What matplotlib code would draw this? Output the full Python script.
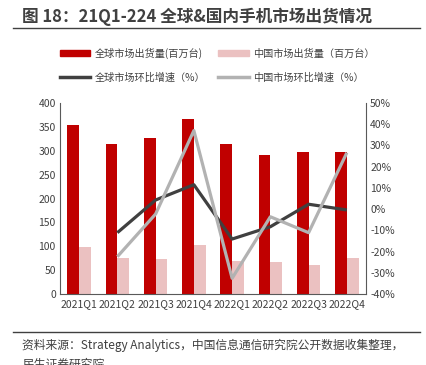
import matplotlib.pyplot as plt
import numpy as np
from matplotlib.lines import Line2D
from matplotlib.patches import Patch
from matplotlib.ticker import FuncFormatter

plt.rcParams['font.family'] = ['Noto Sans CJK SC', 'DejaVu Sans']

# 数据
quarters = ['2021Q1', '2021Q2', '2021Q3', '2021Q4', '2022Q1', '2022Q2', '2022Q3', '2022Q4']
global_ship = [354, 315, 327, 366, 315, 292, 297, 297]
china_ship = [98, 76, 74, 102, 69, 67, 60, 75]
global_qoq = [None, -11.1, 4.3, 11.5, -14.1, -8.3, 2.3, -0.4]
china_qoq = [None, -22.4, -2.3, 37.0, -32.6, -3.6, -11.1, 26.6]

c_global = '#C00000'
c_china = '#EBC1C1'
c_gline = '#404040'
c_cline = '#B2B2B2'
txt = '#404040'

fig = plt.figure(figsize=(4.27, 3.65), dpi=100)
ax = fig.add_axes([0.1405, 0.1945, 0.7166, 0.5233])
ax2 = ax.twinx()

x = np.arange(len(quarters))
w = 0.31
ax.bar(x - w / 2, global_ship, w, color=c_global)
ax.bar(x + w / 2, china_ship, w, color=c_china)
ax.set_xlim(-0.5, len(quarters) - 0.5)
ax.set_ylim(0, 400)
ax.set_yticks(range(0, 401, 50))
ax.set_xticks(x)
ax.set_xticklabels(quarters)

gx = [i for i, v in enumerate(global_qoq) if v is not None]
ax2.plot(gx, [global_qoq[i] for i in gx], color=c_gline, lw=2.3, solid_capstyle='butt')
ax2.plot(gx, [china_qoq[i] for i in gx], color=c_cline, lw=2.3, solid_capstyle='butt')
ax2.set_ylim(-40, 50)
ax2.set_yticks(range(-40, 51, 10))
ax2.yaxis.set_major_formatter(FuncFormatter(lambda v, p: '%d%%' % v))

for a in (ax, ax2):
    a.spines['top'].set_visible(False)
    for s in ('left', 'right', 'bottom'):
        a.spines[s].set_color('#595959')
        a.spines[s].set_linewidth(0.8)
    a.tick_params(length=0, labelsize=7.5, colors=txt, pad=3)
ax.spines['right'].set_visible(False)
ax2.spines['left'].set_visible(False)
ax2.spines['bottom'].set_visible(False)
ax.tick_params(axis='x', pad=4)

handles = [Patch(color=c_global), Line2D([], [], color=c_gline, lw=2.5),
           Patch(color=c_china), Line2D([], [], color=c_cline, lw=2.5)]
labels = ['全球市场出货量(百万台)', '全球市场环比增速（%）',
          '中国市场出货量（百万台）', '中国市场环比增速（%）']
leg = fig.legend(handles, labels, ncol=2, frameon=False, loc='center',
                 bbox_to_anchor=(217 / 427, 1 - 65 / 365), fontsize=7.3,
                 handlelength=3.0, handleheight=0.6, columnspacing=1.3,
                 labelspacing=1.35, handletextpad=0.4)
for t in leg.get_texts():
    t.set_color(txt)

fig.text(22 / 427, 1 - 17 / 365, '图 18：21Q1-224 全球&国内手机市场出货情况',
         fontsize=12, fontweight='bold', color='#404040', va='center', ha='left')
fig.add_artist(Line2D([13 / 427, 420 / 427], [1 - 28 / 365] * 2, color='#404040', lw=1))
fig.add_artist(Line2D([13 / 427, 420 / 427], [1 - 332 / 365] * 2, color='#404040', lw=1))
fig.text(22 / 427, 1 - 345 / 365,
         '资料来源：Strategy Analytics，中国信息通信研究院公开数据收集整理，',
         fontsize=8.5, color=txt, va='center', ha='left')
fig.text(22 / 427, 1 - 364 / 365, '民生证券研究院',
         fontsize=8.5, color=txt, va='center', ha='left')

fig.savefig('out.png', dpi=100)
